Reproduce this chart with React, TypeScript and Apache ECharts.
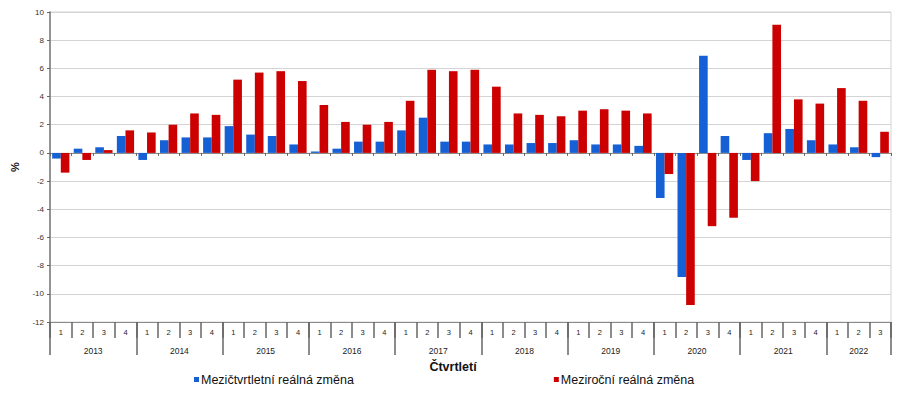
import React, { useEffect, useRef } from "react";
import * as echarts from "echarts";

const years = ["2013", "2014", "2015", "2016", "2017", "2018", "2019", "2020", "2021", "2022"];
const quartersPerYear = [4, 4, 4, 4, 4, 4, 4, 4, 4, 3];

const qoq = [
  -0.4, 0.3, 0.4, 1.2,
  -0.5, 0.9, 1.1, 1.1,
  1.9, 1.3, 1.2, 0.6,
  0.1, 0.3, 0.8, 0.8,
  1.6, 2.5, 0.8, 0.8,
  0.6, 0.6, 0.7, 0.7,
  0.9, 0.6, 0.6, 0.5,
  -3.2, -8.8, 6.9, 1.2,
  -0.5, 1.4, 1.7, 0.9,
  0.6, 0.4, -0.3,
];

const yoy = [
  -1.4, -0.5, 0.2, 1.6,
  1.45, 2.0, 2.8, 2.7,
  5.2, 5.7, 5.8, 5.1,
  3.4, 2.2, 2.0, 2.2,
  3.7, 5.9, 5.8, 5.9,
  4.7, 2.8, 2.7, 2.6,
  3.0, 3.1, 3.0, 2.8,
  -1.5, -10.8, -5.2, -4.6,
  -2.0, 9.1, 3.8, 3.5,
  4.6, 3.7, 1.5,
];

const seriesNames = ["Mezičtvrtletní reálná změna", "Meziroční reálná změna"];
const yTicks = { min: -12, max: 10, interval: 2 };
const axisTitleX = "Čtvrtletí";
const axisTitleY = "%";

const FONT = "Liberation Sans, Arial, sans-serif";

export default function App() {
  const ref = useRef<HTMLDivElement>(null);

  useEffect(() => {
    if (!ref.current) return;
    const chart = echarts.init(ref.current, undefined, { renderer: "svg" });

    const quarterLabels: string[] = [];
    years.forEach((_, i) => {
      for (let q = 1; q <= quartersPerYear[i]; q++) quarterLabels.push(String(q));
    });
    const n = quarterLabels.length;
    const halfData: string[] = new Array(2 * n + 1).fill("");
    const boundaries = new Set<number>();
    let start = 0;
    years.forEach((y, i) => {
      boundaries.add(2 * start);
      halfData[2 * start + quartersPerYear[i]] = y;
      start += quartersPerYear[i];
    });
    boundaries.add(2 * n);

    chart.setOption({
      animation: false,
      textStyle: { fontFamily: FONT },
      grid: {
        left: 50,
        right: 7,
        top: 12,
        bottom: 74,
        show: true,
        borderColor: "#d4d4d4",
        borderWidth: 1,
      },
      legend: {
        bottom: 5,
        left: 189,
        itemGap: 200,
        itemWidth: 5,
        itemHeight: 5,
        icon: "rect",
        textStyle: { fontSize: 12.5, color: "#111", fontFamily: FONT, padding: [0, 0, 0, -3] },
        data: seriesNames,
      },
      graphic: [
        {
          type: "text",
          x: 453,
          y: 367,
          style: {
            text: axisTitleX,
            font: `bold 12.5px ${FONT}`,
            fill: "#111",
            textAlign: "center",
            textVerticalAlign: "middle",
          },
        },
      ],
      xAxis: [
        {
          type: "category",
          data: quarterLabels,
          position: "bottom",
          axisLine: { onZero: true, lineStyle: { color: "#8a8a8a", width: 1 } },
          axisTick: { show: true, interval: 0, length: 3, lineStyle: { color: "#666" } },
          axisLabel: { show: false },
          splitLine: { show: false },
        },
        {
          type: "category",
          data: quarterLabels,
          position: "bottom",
          axisLine: { onZero: false, lineStyle: { color: "#8a8a8a", width: 1 } },
          axisTick: { show: true, interval: 0, length: 16, lineStyle: { color: "#666", width: 1.5 } },
          axisLabel: { show: true, interval: 0, fontSize: 7.5, color: "#222", margin: 6, fontFamily: FONT },
          splitLine: { show: false },
        },
        {
          type: "category",
          data: halfData,
          boundaryGap: false,
          position: "bottom",
          axisLine: { show: false, onZero: false },
          axisTick: {
            show: true,
            interval: (idx: number) => boundaries.has(idx),
            length: 33,
            lineStyle: { color: "#666", width: 1.5 },
          },
          axisLabel: {
            show: true,
            interval: 0,
            fontSize: 8.5,
            color: "#222",
            margin: 24,
            fontFamily: FONT,
          },
          splitLine: { show: false },
        },
      ],
      yAxis: {
        type: "value",
        min: yTicks.min,
        max: yTicks.max,
        interval: yTicks.interval,
        name: axisTitleY,
        nameLocation: "middle",
        nameRotate: 90,
        nameGap: 30,
        nameTextStyle: { fontSize: 11, fontWeight: "bold", color: "#111", fontFamily: FONT },
        axisLine: { show: true, lineStyle: { color: "#777", width: 1.5 } },
        axisTick: { show: true, length: 3, lineStyle: { color: "#666" } },
        axisLabel: { fontSize: 8, color: "#333", margin: 6, fontFamily: FONT },
        splitLine: { show: true, lineStyle: { color: "#d4d4d4", width: 1 } },
      },
      series: [
        {
          name: seriesNames[0],
          type: "bar",
          xAxisIndex: 0,
          data: qoq,
          itemStyle: { color: "#1560d4" },
          barGap: "0%",
          barCategoryGap: "20%",
        },
        {
          name: seriesNames[1],
          type: "bar",
          xAxisIndex: 0,
          data: yoy,
          itemStyle: { color: "#cc0000" },
          barGap: "0%",
          barCategoryGap: "20%",
        },
      ],
    });

    return () => chart.dispose();
  }, []);

  return (
    <div
      ref={ref}
      style={{ position: "fixed", left: 0, top: 0, width: 898, height: 396, background: "#fff" }}
    />
  );
}
